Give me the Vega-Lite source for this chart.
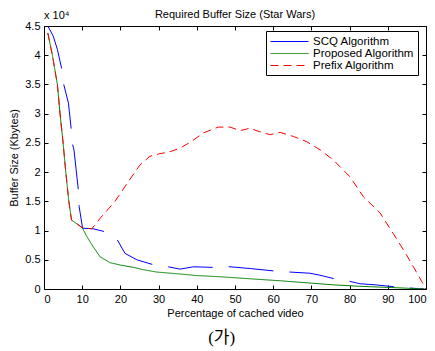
{
  "$schema": "https://vega.github.io/schema/vega-lite/v6.json",
  "width": 382,
  "height": 263,
  "autosize": {"type": "none"},
  "padding": {"left": 44, "top": 26, "right": 9, "bottom": 62},
  "background": "white",
  "config": {
    "font": "Liberation Sans",
    "view": {"stroke": null},
    "axis": {"grid": false, "domainColor": "black", "tickColor": "black", "labelColor": "black", "titleColor": "black", "labelFontSize": 11, "titleFontSize": 11, "titleFontWeight": "normal", "labelFont": "Liberation Sans", "titleFont": "Liberation Sans", "tickSize": -4, "labelPadding": 8},
    "legend": {"labelFontSize": 11.5, "labelFont": "Liberation Sans", "labelColor": "black"}
  },
  "title": {"text": "Required Buffer Size (Star Wars)", "fontSize": 11, "fontWeight": "normal", "color": "black", "offset": -10, "frame": "group"},
  "datasets": {
    "curves": [
      {"series": "SCQ Algorithm", "x": 1, "y": 4.5},
      {"series": "SCQ Algorithm", "x": 2.4, "y": 4.33},
      {"series": "SCQ Algorithm", "x": 3.5, "y": 4.1},
      {"series": "SCQ Algorithm", "x": 4.6, "y": 3.78},
      {"series": "SCQ Algorithm", "x": 5.2, "y": 3.49},
      {"series": "SCQ Algorithm", "x": 6.4, "y": 3.18},
      {"series": "SCQ Algorithm", "x": 7.1, "y": 2.75},
      {"series": "SCQ Algorithm", "x": 7.5, "y": 2.47},
      {"series": "SCQ Algorithm", "x": 7.85, "y": 2.38},
      {"series": "SCQ Algorithm", "x": 8.4, "y": 2.05},
      {"series": "SCQ Algorithm", "x": 9.0, "y": 1.69},
      {"series": "SCQ Algorithm", "x": 9.2, "y": 1.41},
      {"series": "SCQ Algorithm", "x": 10.1, "y": 1.04},
      {"series": "SCQ Algorithm", "x": 12.9, "y": 1.03},
      {"series": "SCQ Algorithm", "x": 16, "y": 0.98},
      {"series": "SCQ Algorithm", "x": 19.2, "y": 0.84},
      {"series": "SCQ Algorithm", "x": 21.2, "y": 0.61},
      {"series": "SCQ Algorithm", "x": 24.3, "y": 0.5},
      {"series": "SCQ Algorithm", "x": 28.4, "y": 0.42},
      {"series": "SCQ Algorithm", "x": 32.5, "y": 0.38},
      {"series": "SCQ Algorithm", "x": 35.6, "y": 0.34},
      {"series": "SCQ Algorithm", "x": 39.1, "y": 0.38},
      {"series": "SCQ Algorithm", "x": 44.3, "y": 0.37},
      {"series": "SCQ Algorithm", "x": 48.7, "y": 0.38},
      {"series": "SCQ Algorithm", "x": 54, "y": 0.35},
      {"series": "SCQ Algorithm", "x": 60, "y": 0.31},
      {"series": "SCQ Algorithm", "x": 64.4, "y": 0.29},
      {"series": "SCQ Algorithm", "x": 69.6, "y": 0.27},
      {"series": "SCQ Algorithm", "x": 72, "y": 0.24},
      {"series": "SCQ Algorithm", "x": 75.7, "y": 0.18},
      {"series": "SCQ Algorithm", "x": 80.1, "y": 0.13},
      {"series": "SCQ Algorithm", "x": 82.7, "y": 0.09},
      {"series": "SCQ Algorithm", "x": 87, "y": 0.07},
      {"series": "SCQ Algorithm", "x": 91.4, "y": 0.04},
      {"series": "SCQ Algorithm", "x": 95, "y": 0.02},
      {"series": "SCQ Algorithm", "x": 99.5, "y": 0.0},
      {"series": "Proposed Algorithm", "x": 1, "y": 4.38},
      {"series": "Proposed Algorithm", "x": 2.2, "y": 4.0},
      {"series": "Proposed Algorithm", "x": 3.5, "y": 3.5},
      {"series": "Proposed Algorithm", "x": 4.2, "y": 3.0},
      {"series": "Proposed Algorithm", "x": 5.0, "y": 2.5},
      {"series": "Proposed Algorithm", "x": 5.7, "y": 2.0},
      {"series": "Proposed Algorithm", "x": 6.5, "y": 1.5},
      {"series": "Proposed Algorithm", "x": 7.2, "y": 1.18},
      {"series": "Proposed Algorithm", "x": 8.5, "y": 1.12},
      {"series": "Proposed Algorithm", "x": 10, "y": 1.05},
      {"series": "Proposed Algorithm", "x": 11.2, "y": 0.9},
      {"series": "Proposed Algorithm", "x": 12.9, "y": 0.72},
      {"series": "Proposed Algorithm", "x": 14.7, "y": 0.55},
      {"series": "Proposed Algorithm", "x": 17.3, "y": 0.45},
      {"series": "Proposed Algorithm", "x": 20, "y": 0.41},
      {"series": "Proposed Algorithm", "x": 23.4, "y": 0.37},
      {"series": "Proposed Algorithm", "x": 26, "y": 0.33},
      {"series": "Proposed Algorithm", "x": 29.5, "y": 0.29},
      {"series": "Proposed Algorithm", "x": 35, "y": 0.26},
      {"series": "Proposed Algorithm", "x": 40, "y": 0.23},
      {"series": "Proposed Algorithm", "x": 46, "y": 0.21},
      {"series": "Proposed Algorithm", "x": 55, "y": 0.17},
      {"series": "Proposed Algorithm", "x": 62, "y": 0.14},
      {"series": "Proposed Algorithm", "x": 70, "y": 0.1},
      {"series": "Proposed Algorithm", "x": 76, "y": 0.07},
      {"series": "Proposed Algorithm", "x": 83, "y": 0.045},
      {"series": "Proposed Algorithm", "x": 91, "y": 0.025},
      {"series": "Proposed Algorithm", "x": 100, "y": 0.0},
      {"series": "Prefix Algorithm", "x": 1, "y": 4.38},
      {"series": "Prefix Algorithm", "x": 2.2, "y": 4.0},
      {"series": "Prefix Algorithm", "x": 3.5, "y": 3.5},
      {"series": "Prefix Algorithm", "x": 4.2, "y": 3.0},
      {"series": "Prefix Algorithm", "x": 5.0, "y": 2.5},
      {"series": "Prefix Algorithm", "x": 5.7, "y": 2.0},
      {"series": "Prefix Algorithm", "x": 6.5, "y": 1.5},
      {"series": "Prefix Algorithm", "x": 7.2, "y": 1.18},
      {"series": "Prefix Algorithm", "x": 8.5, "y": 1.12},
      {"series": "Prefix Algorithm", "x": 10, "y": 1.05},
      {"series": "Prefix Algorithm", "x": 12.5, "y": 1.03},
      {"series": "Prefix Algorithm", "x": 14.7, "y": 1.21},
      {"series": "Prefix Algorithm", "x": 18.6, "y": 1.5},
      {"series": "Prefix Algorithm", "x": 22.1, "y": 1.84},
      {"series": "Prefix Algorithm", "x": 25.1, "y": 2.12},
      {"series": "Prefix Algorithm", "x": 27.7, "y": 2.27},
      {"series": "Prefix Algorithm", "x": 30, "y": 2.31},
      {"series": "Prefix Algorithm", "x": 33, "y": 2.35},
      {"series": "Prefix Algorithm", "x": 35.6, "y": 2.41},
      {"series": "Prefix Algorithm", "x": 38.5, "y": 2.52},
      {"series": "Prefix Algorithm", "x": 41.7, "y": 2.67},
      {"series": "Prefix Algorithm", "x": 45.6, "y": 2.77},
      {"series": "Prefix Algorithm", "x": 48.7, "y": 2.77},
      {"series": "Prefix Algorithm", "x": 51.3, "y": 2.71},
      {"series": "Prefix Algorithm", "x": 53.9, "y": 2.75},
      {"series": "Prefix Algorithm", "x": 56.5, "y": 2.69},
      {"series": "Prefix Algorithm", "x": 59.2, "y": 2.64},
      {"series": "Prefix Algorithm", "x": 61.8, "y": 2.68},
      {"series": "Prefix Algorithm", "x": 65.3, "y": 2.61},
      {"series": "Prefix Algorithm", "x": 68.8, "y": 2.52},
      {"series": "Prefix Algorithm", "x": 72.3, "y": 2.38},
      {"series": "Prefix Algorithm", "x": 75.7, "y": 2.21},
      {"series": "Prefix Algorithm", "x": 80.1, "y": 1.92},
      {"series": "Prefix Algorithm", "x": 83.6, "y": 1.58},
      {"series": "Prefix Algorithm", "x": 88, "y": 1.3},
      {"series": "Prefix Algorithm", "x": 91.4, "y": 0.95},
      {"series": "Prefix Algorithm", "x": 94.1, "y": 0.67},
      {"series": "Prefix Algorithm", "x": 96.7, "y": 0.38},
      {"series": "Prefix Algorithm", "x": 100, "y": 0.0}
    ]
  },
  "resolve": {"axis": {"x": "independent", "y": "independent"}},
  "layer": [
    {
      "data": {"name": "curves"},
      "mark": {"type": "line", "strokeWidth": 1, "clip": true},
      "encoding": {
        "x": {"field": "x", "type": "quantitative", "scale": {"domain": [0, 100], "nice": false},
          "axis": {"orient": "bottom", "values": [0,10,20,30,40,50,60,70,80,90,100], "title": "Percentage of cached video", "titlePadding": 3}},
        "y": {"field": "y", "type": "quantitative", "scale": {"domain": [0, 4.5], "nice": false},
          "axis": {"orient": "left", "values": [0,0.5,1,1.5,2,2.5,3,3.5,4,4.5], "format": "~g", "title": "Buffer Size (Kbytes)", "titlePadding": 5}},
        "color": {"field": "series", "type": "nominal",
          "scale": {"domain": ["SCQ Algorithm", "Proposed Algorithm", "Prefix Algorithm"], "range": ["#0000ff", "#008000", "#ff0000"]},
          "legend": {"title": null, "orient": "none", "legendX": 222, "legendY": 5, "fillColor": "white", "strokeColor": "black", "padding": 4, "labelFontSize": 11.5, "labelColor": "black", "symbolType": "M-1,0H5.33", "symbolSize": 144, "symbolStrokeWidth": 1, "labelOffset": 30, "rowPadding": 0,
            "encode": {"symbols": {"update": {"strokeDash": {"signal": "datum.value === 'Prefix Algorithm' ? [8,5] : [1,0]"}}}}}},
        "strokeDash": {"field": "series", "type": "nominal",
          "scale": {"domain": ["SCQ Algorithm", "Proposed Algorithm", "Prefix Algorithm"], "range": [[45, 16], [1, 0], [8, 5]]},
          "legend": null}
      }
    },
    {
      "data": {"values": [{"label": "x 10⁴", "x": 0, "y": 4.5}]},
      "mark": {"type": "text", "align": "left", "baseline": "middle", "dy": -10, "fontSize": 11, "color": "black"},
      "encoding": {
        "x": {"field": "x", "type": "quantitative", "axis": {"orient": "top", "values": [0,10,20,30,40,50,60,70,80,90,100], "labels": false, "title": null}},
        "y": {"field": "y", "type": "quantitative", "axis": {"orient": "right", "values": [0,0.5,1,1.5,2,2.5,3,3.5,4,4.5], "labels": false, "title": null}},
        "text": {"field": "label"}
      }
    },
    {
      "data": {"values": [{"label": "(가)", "x": 46.5, "y": 0}]},
      "mark": {"type": "text", "align": "center", "baseline": "middle", "dy": 49, "fontSize": 17, "font": "Liberation Serif, Noto Sans CJK KR", "color": "black"},
      "encoding": {
        "x": {"field": "x", "type": "quantitative", "axis": null},
        "y": {"field": "y", "type": "quantitative", "axis": null},
        "text": {"field": "label"}
      }
    }
  ]
}
